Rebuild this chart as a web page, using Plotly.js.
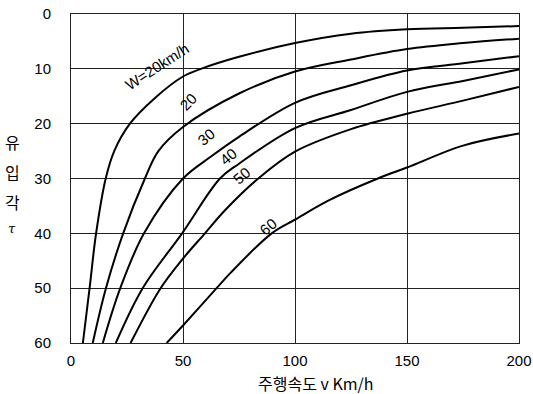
<!DOCTYPE html>
<html>
<head>
<meta charset="utf-8">
<script src="https://cdn.plot.ly/plotly-3.0.1.min.js"></script>
<style>html,body{margin:0;padding:0;background:#fff;}#chart{width:533px;height:394px;}</style>
</head>
<body>
<div id="chart"></div>
<script>
// Curve data: speed V (km/h) vs inflow angle tau
const x1 = [5.3, 8.3, 11.2, 15.5, 19.3, 26.3, 37.5, 50, 58, 75, 100, 125, 150, 175, 200];
const y1 = [60, 50, 40, 30, 25, 20, 15.3, 11.4, 10, 7.8, 5.3, 3.6, 2.8, 2.5, 2.2];
const x2 = [9.7, 15.6, 23.3, 33, 39, 50, 75, 100, 125, 150, 175, 200];
const y2 = [60, 50, 40, 30, 25, 20.6, 14.5, 10.5, 8.3, 6.4, 5.3, 4.5];
const x3 = [14.2, 22, 32.6, 50, 62.5, 75, 100, 125, 150, 175, 200];
const y3 = [60, 50, 40, 30, 26, 22.4, 16.2, 13.0, 10.3, 9.0, 7.7];
const x4 = [20, 32, 49.6, 66.5, 75, 100, 125, 150, 175, 200];
const y4 = [60, 50, 40, 30, 27.3, 20.8, 17.5, 14.2, 12.2, 10.1];
const x5 = [26.6, 40, 50, 59.8, 68.75, 83.6, 100, 125, 150, 175, 200];
const y5 = [60, 50, 44.6, 40, 35.8, 30, 25.1, 21.0, 18.2, 15.8, 13.3];
const x6 = [42.7, 50, 65, 71, 89.6, 100, 115.5, 137, 150, 175, 200];
const y6 = [60, 56.8, 50, 47.3, 40, 37.5, 33.9, 30, 28, 24, 21.8];

const curveLabels = ["W=20km/h", "20", "30", "40", "50", "60"];
const labelX = [38.3, 52.4, 60.6, 70.2, 76.2, 88.1];
const labelY = [9.6, 16.0, 22.4, 26.0, 29.4, 38.8];
const labelAngle = [-33, -45, -40, -40, -40, -40];

const xTicks = [0, 50, 100, 150, 200];
const yTicks = [0, 10, 20, 30, 40, 50, 60];
const xTitle = "주행속도 v Km/h";
const yTitleChars = ["유", "입", "각", "τ"];

const xs = [x1, x2, x3, x4, x5, x6];
const ys = [y1, y2, y3, y4, y5, y6];
const FONT = "Liberation Sans, Arial, sans-serif";
const KFONT = "Noto Sans CJK KR, Liberation Sans, sans-serif";

const traces = xs.map((x, i) => ({
  x: x, y: ys[i], type: "scatter", mode: "lines",
  line: {color: "#000", width: 2, shape: "spline", smoothing: 1},
  hoverinfo: "skip", showlegend: false
}));

const annotations = curveLabels.map((t, i) => ({
  x: labelX[i], y: labelY[i], xref: "x", yref: "y", text: t, showarrow: false,
  textangle: labelAngle[i], font: {family: FONT, size: 15, color: "#000"}
}));
annotations.push({
  x: (316 - 71) / 448, y: 0, xref: "paper", yref: "paper", yshift: -40, xanchor: "center", yanchor: "middle",
  text: xTitle, showarrow: false, font: {family: KFONT, size: 16, color: "#000"}
});
const yTitlePos = [142, 172, 202, 228];
yTitleChars.forEach((c, i) => {
  annotations.push({
    x: 0, xref: "paper", xshift: -59, y: 1 - (yTitlePos[i] - 14) / 329, yref: "paper",
    text: i === 3 ? "<i>" + c + "</i>" : c, showarrow: false, xanchor: "center", yanchor: "middle",
    font: {family: i === 3 ? "DejaVu Serif, serif" : KFONT, size: i === 3 ? 13 : 16, color: "#000"}
  });
});

const layout = {
  width: 533, height: 394,
  margin: {l: 71, r: 14, t: 14, b: 51},
  paper_bgcolor: "#fff", plot_bgcolor: "#fff",
  showlegend: false,
  font: {family: FONT, size: 15, color: "#000"},
  xaxis: {
    range: [0, 200], tickvals: xTicks, ticktext: xTicks.map(String),
    showgrid: true, gridcolor: "#222", gridwidth: 1, zeroline: false,
    showline: true, linecolor: "#222", linewidth: 1, mirror: true,
    ticks: "outside", ticklen: 4, tickcolor: "rgba(0,0,0,0)",
    tickfont: {family: FONT, size: 15, color: "#000"}
  },
  yaxis: {
    range: [60, 0], tickvals: yTicks, ticktext: yTicks.map(String),
    showgrid: true, gridcolor: "#222", gridwidth: 1, zeroline: false,
    showline: true, linecolor: "#222", linewidth: 1, mirror: true,
    ticks: "", ticklabelstandoff: 16, tickfont: {family: FONT, size: 15, color: "#000"}
  },
  annotations: annotations
};

Plotly.newPlot("chart", traces, layout, {staticPlot: true, displayModeBar: false});
</script>
</body>
</html>
